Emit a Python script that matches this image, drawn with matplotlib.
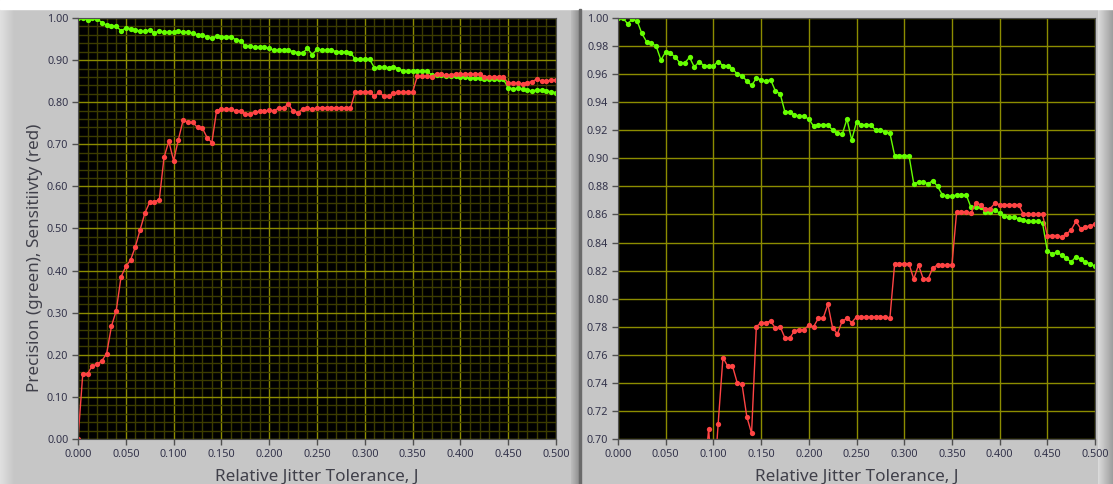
import numpy as np
import matplotlib.pyplot as plt
from matplotlib.patches import Rectangle
from matplotlib.ticker import MultipleLocator, FormatStrFormatter

# relative jitter tolerance grid, 0 .. 0.5 in steps of 0.005
jitter = np.linspace(0.0, 0.5, 101)

precision = [1.000, 1.000, 0.996, 0.999, 0.998, 0.989, 0.983, 0.982, 0.980, 0.970,
             0.976, 0.975, 0.972, 0.968, 0.968, 0.972, 0.965, 0.969, 0.966, 0.966,
             0.966, 0.969, 0.966, 0.966, 0.964, 0.960, 0.959, 0.955, 0.952, 0.957,
             0.956, 0.955, 0.956, 0.948, 0.946, 0.933, 0.933, 0.931, 0.930, 0.930,
             0.928, 0.923, 0.924, 0.924, 0.924, 0.920, 0.918, 0.917, 0.928, 0.913,
             0.926, 0.924, 0.924, 0.924, 0.920, 0.920, 0.919, 0.918, 0.902, 0.902,
             0.902, 0.902, 0.882, 0.883, 0.883, 0.882, 0.884, 0.880, 0.874, 0.873,
             0.873, 0.874, 0.874, 0.874, 0.865, 0.865, 0.865, 0.862, 0.862, 0.863,
             0.861, 0.859, 0.858, 0.858, 0.857, 0.856, 0.855, 0.855, 0.855, 0.854,
             0.834, 0.832, 0.833, 0.831, 0.829, 0.826, 0.830, 0.828, 0.826, 0.825,
             0.823]

sensitivity = [0.000, 0.155, 0.155, 0.174, 0.177, 0.186, 0.203, 0.268, 0.305, 0.385,
               0.410, 0.425, 0.457, 0.497, 0.537, 0.562, 0.564, 0.568, 0.669, 0.707,
               0.661, 0.711, 0.758, 0.752, 0.752, 0.740, 0.739, 0.716, 0.704, 0.780,
               0.783, 0.783, 0.784, 0.779, 0.780, 0.772, 0.772, 0.777, 0.778, 0.778,
               0.781, 0.780, 0.786, 0.786, 0.796, 0.779, 0.775, 0.784, 0.786, 0.783,
               0.787, 0.787, 0.787, 0.787, 0.787, 0.787, 0.787, 0.786, 0.825, 0.825,
               0.825, 0.825, 0.814, 0.824, 0.814, 0.814, 0.822, 0.824, 0.824, 0.824,
               0.824, 0.862, 0.862, 0.862, 0.861, 0.868, 0.867, 0.864, 0.864, 0.868,
               0.867, 0.867, 0.867, 0.867, 0.867, 0.860, 0.860, 0.860, 0.860, 0.860,
               0.845, 0.845, 0.845, 0.844, 0.846, 0.849, 0.855, 0.850, 0.851, 0.852,
               0.853]

plt.rcParams['font.family'] = ['Noto Sans', 'DejaVu Sans']

W, H = 1113, 484
fig = plt.figure(figsize=(W / 100, H / 100), dpi=100, facecolor='#c6c6c6')


def box(x0, y0, w, h, color):
    # pixel box, y measured from the top
    fig.patches.append(Rectangle((x0 / W, 1 - (y0 + h) / H), w / W, h / H,
                                 transform=fig.transFigure, color=color, zorder=0))


def gradient(x0, w, c_from, c_to):
    gx = fig.add_axes([x0 / W, 0, w / W, 1 - 9 / H], zorder=-1)
    g = np.linspace(0, 1, 32)[None, :, None]
    img = np.array(c_from)[None, None, :] * (1 - g) + np.array(c_to)[None, None, :] * g
    gx.imshow(img, aspect='auto', extent=[0, 1, 0, 1])
    gx.axis('off')


box(0, 0, W, 9, 'white')
gradient(0, 14, (0.88, 0.88, 0.88), (0.78, 0.78, 0.78))
gradient(571, 9, (0.74, 0.74, 0.74), (0.55, 0.55, 0.55))
box(579, 9, 2, H - 9, '#6a6a6a')
gradient(1098, 15, (0.86, 0.86, 0.86), (0.62, 0.62, 0.62))

GREEN = '#66ff00'
RED = '#ff4444'
TXT = '#33334a'


def panel(x0, x1, ylim, ystep, minor):
    ax = fig.add_axes([x0 / W, 45 / H, (x1 - x0) / W, 421 / H], facecolor='black')
    ax.plot(jitter, precision, color=GREEN, lw=1, marker='o', ms=3.8, mew=0)
    ax.plot(jitter, sensitivity, color=RED, lw=1, marker='o', ms=3.8, mew=0)
    ax.set_xlim(0, 0.5)
    ax.set_ylim(*ylim)
    ax.xaxis.set_major_locator(MultipleLocator(0.05))
    ax.yaxis.set_major_locator(MultipleLocator(ystep))
    ax.xaxis.set_major_formatter(FormatStrFormatter('%.3f'))
    ax.yaxis.set_major_formatter(FormatStrFormatter('%.2f'))
    ax.grid(True, which='major', color='#8c8c00', lw=1)
    if minor:
        ax.xaxis.set_minor_locator(MultipleLocator(0.01))
        ax.yaxis.set_minor_locator(MultipleLocator(0.02))
        ax.grid(True, which='minor', color='#3c3c00', lw=1)
    ax.set_axisbelow(True)
    ax.tick_params(which='major', direction='out', length=4, width=1, color='#505050',
                   labelsize=7.8, labelcolor=TXT, pad=3)
    ax.tick_params(which='minor', length=0)
    for s in ax.spines.values():
        s.set_color('#505050')
    ax.set_xlabel('Relative Jitter Tolerance, J', fontsize=12.3, color='#40404a')
    ax.xaxis.set_label_coords(0.5, -0.071)
    return ax


left = panel(78, 556, (0, 1.0), 0.1, True)
left.set_ylabel('Precision (green), Sensitiivty (red)', fontsize=12.3, color='#40404a')
left.yaxis.set_label_coords(-0.074, 0.43)
right = panel(618, 1095, (0.70, 1.00), 0.02, False)

fig.savefig('out.png', dpi=100, facecolor=fig.get_facecolor())
